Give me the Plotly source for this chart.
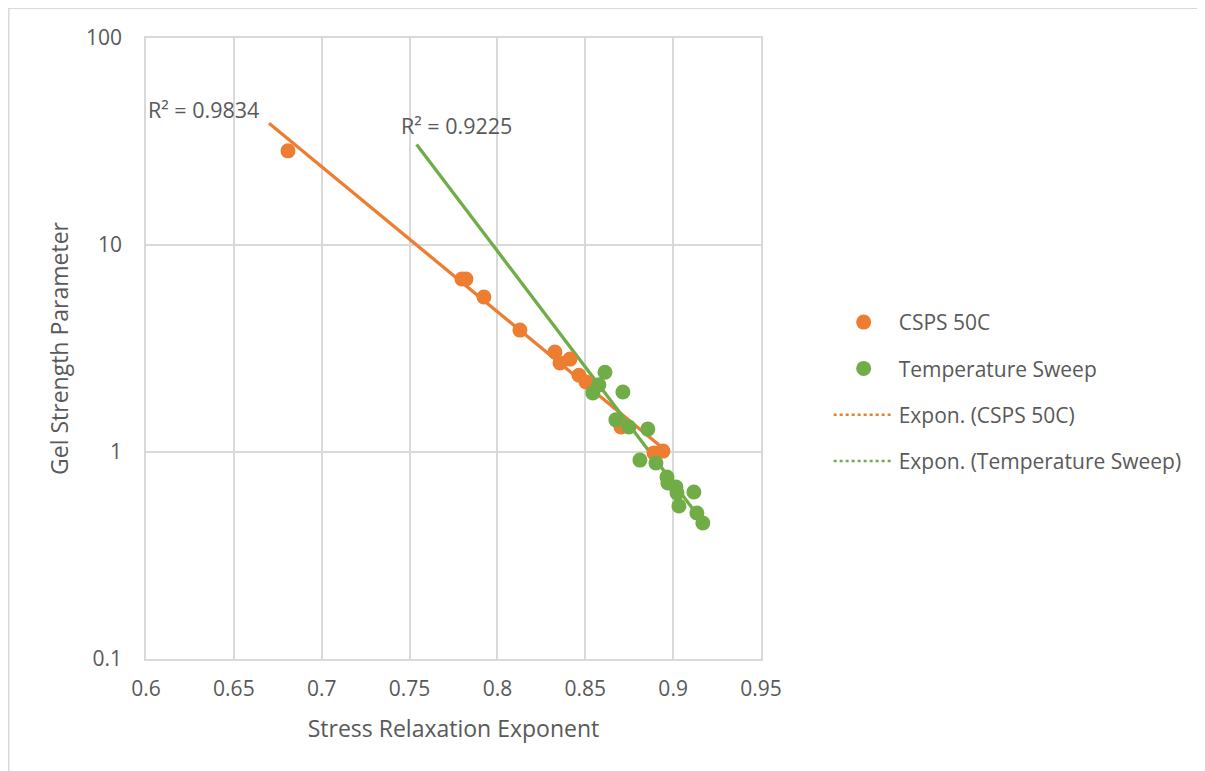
import numpy as np
import plotly.graph_objects as go

# ---- data ----
csps_x = [0.6808, 0.7798, 0.7821, 0.7923, 0.8128, 0.8327, 0.8356, 0.8413,
          0.8464, 0.8504, 0.8703, 0.8891, 0.8942]
csps_y = [28.5, 6.85, 6.85, 5.61, 3.88, 3.04, 2.69, 2.81,
          2.35, 2.18, 1.32, 0.99, 1.01]

temp_x = [0.8543, 0.8577, 0.8612, 0.8714, 0.8674, 0.8748, 0.8856, 0.8811,
          0.8902, 0.8965, 0.8970, 0.9016, 0.9022, 0.9118, 0.9033, 0.9135, 0.9169]
temp_y = [1.93, 2.11, 2.43, 1.95, 1.43, 1.32, 1.29, 0.914,
          0.885, 0.757, 0.708, 0.678, 0.634, 0.641, 0.548, 0.507, 0.454]

csps_r2 = "R² = 0.9834"
temp_r2 = "R² = 0.9225"

# trendline backward forecast start points
csps_trend_start = 0.670
temp_trend_start = 0.754

x_ticks = [0.6, 0.65, 0.7, 0.75, 0.8, 0.85, 0.9, 0.95]
x_tick_text = ["0.6", "0.65", "0.7", "0.75", "0.8", "0.85", "0.9", "0.95"]
y_ticks = [0.1, 1, 10, 100]
y_tick_text = ["0.1", "1", "10", "100"]

ORANGE = "#ED7D31"
GREEN = "#70AD47"
GRID = "#d9d9d9"
TXT = "#595959"
FONT = "Open Sans"


def exp_trend(xs, ys, x0):
    b, a = np.polyfit(np.array(xs), np.log(np.array(ys)), 1)
    tx = np.linspace(x0, max(xs), 50)
    return tx, np.exp(a + b * tx)


fig = go.Figure()

ctx, cty = exp_trend(csps_x, csps_y, csps_trend_start)
ttx, tty = exp_trend(temp_x, temp_y, temp_trend_start)

fig.add_trace(go.Scatter(x=ctx, y=cty, mode="lines", line=dict(color=ORANGE, width=3.3),
                         showlegend=False, hoverinfo="skip"))
fig.add_trace(go.Scatter(x=ttx, y=tty, mode="lines", line=dict(color=GREEN, width=3.3),
                         showlegend=False, hoverinfo="skip"))

fig.add_trace(go.Scatter(x=csps_x, y=csps_y, mode="markers", name="CSPS 50C",
                         marker=dict(color=ORANGE, size=15), legendgroup="a"))
fig.add_trace(go.Scatter(x=temp_x, y=temp_y, mode="markers", name="Temperature Sweep",
                         marker=dict(color=GREEN, size=15), legendgroup="b"))
fig.add_trace(go.Scatter(x=[None], y=[None], mode="lines", name="Expon. (CSPS 50C)",
                         line=dict(color=ORANGE, width=2.5, dash="dot"), legendgroup="c"))
fig.add_trace(go.Scatter(x=[None], y=[None], mode="lines", name="Expon. (Temperature Sweep)",
                         line=dict(color=GREEN, width=2.5, dash="dot"), legendgroup="d"))

fig.add_annotation(x=0.6000, y=1.657, text=csps_r2, showarrow=False, xanchor="left",
                   yanchor="middle", font=dict(size=21.5, color=TXT, family=FONT))
fig.add_annotation(x=0.7440, y=1.575, text=temp_r2, showarrow=False, xanchor="left",
                   yanchor="middle", font=dict(size=21.5, color=TXT, family=FONT))

# outer chart border (partly clipped by window)
fig.add_shape(type="rect", xref="paper", yref="paper", x0=-0.2232, x1=1.75, y0=-0.25, y1=1.048,
              line=dict(color=GRID, width=1.5), layer="below")

fig.update_layout(
    width=1197, height=763,
    margin=dict(l=138, r=444, t=30, b=112),
    paper_bgcolor="white", plot_bgcolor="white",
    font=dict(family=FONT, color=TXT, size=21),
    xaxis=dict(range=[0.6, 0.95], tickvals=x_ticks, ticktext=x_tick_text,
               showgrid=True, gridcolor=GRID, gridwidth=1.5, zeroline=False,
               showline=True, linecolor=GRID, linewidth=1.5, mirror=True,
               ticks="", tickfont=dict(size=21, color=TXT), ticklabelstandoff=10,
               title=dict(text="Stress Relaxation Exponent", font=dict(size=23, color=TXT), standoff=20)),
    yaxis=dict(type="log", range=[-1, 2], tickvals=y_ticks, ticktext=y_tick_text,
               showgrid=True, gridcolor=GRID, gridwidth=1.5, zeroline=False,
               showline=True, linecolor=GRID, linewidth=1.5, mirror=True,
               ticks="", tickfont=dict(size=21, color=TXT), ticklabelstandoff=18,
               title=dict(text="Gel Strength Parameter", font=dict(size=23, color=TXT), standoff=11)),
    legend=dict(x=1.11, y=0.43, xanchor="left", yanchor="middle",
                font=dict(size=21, color=TXT), tracegroupgap=16, itemwidth=60,
                bgcolor="rgba(0,0,0,0)"),
    showlegend=True,
)

fig.write_html("out.html")
